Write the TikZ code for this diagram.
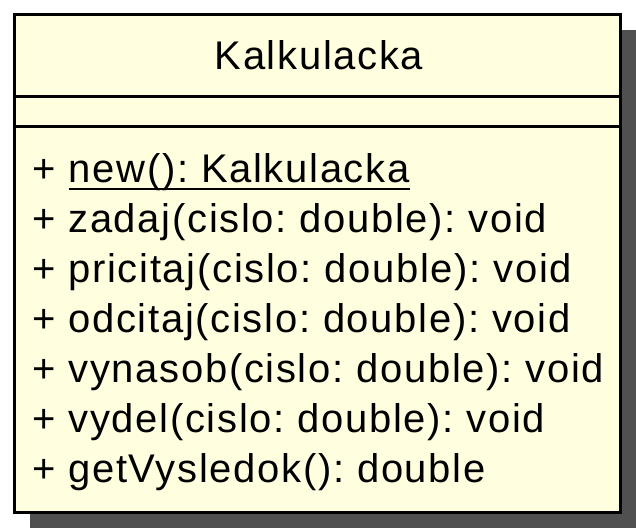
\documentclass[tikz,border=0pt]{standalone}
\usepackage{fontspec}
\setmainfont{Liberation Sans}[LetterSpace=4.2]
\frenchspacing
\definecolor{classfill}{HTML}{FFFFE0}
\definecolor{shadowgray}{HTML}{505050}
\begin{document}
\begin{tikzpicture}[x=1pt,y=-1pt,
  member/.style={anchor=base west,inner sep=0pt,font=\fontsize{40}{46}\selectfont},
  title/.style={anchor=base,inner sep=0pt,font=\fontsize{40}{46}\selectfont},
  frame/.style={draw=black,line width=3pt},
  static/.style={draw=black,line width=2.4pt}]
\useasboundingbox (0,0) rectangle (636,528);
% drop shadow
\fill[shadowgray] (30,30) rectangle (636,528);
% class box
\fill[classfill] (14,14) rectangle (620,512);
\draw[frame] (14,14) rectangle (620,512);
\draw[frame] (14,96) -- (620,96);
\draw[frame] (14,126) -- (620,126);
% class name
\node[title] (name) at (319,69) {Kalkulacka};
% operations (the static constructor is underlined)
\node[member] (op1) at (32,182) {+ \mbox{}};
\node[member] (new) at (op1.base east) {new(): Kalkulacka};
\draw[static] ([yshift=-7pt]new.base west) -- ([yshift=-7pt]new.base east);
\node[member] (op2) at (32,232) {+ zadaj(cislo: double): void};
\node[member] (op3) at (32,282) {+ pricitaj(cislo: double): void};
\node[member] (op4) at (32,332) {+ odcitaj(cislo: double): void};
\node[member] (op5) at (32,382) {+ vynasob(cislo: double): void};
\node[member] (op6) at (32,432) {+ vydel(cislo: double): void};
\node[member] (op7) at (32,482) {+ getVysledok(): double};
\end{tikzpicture}
\end{document}
